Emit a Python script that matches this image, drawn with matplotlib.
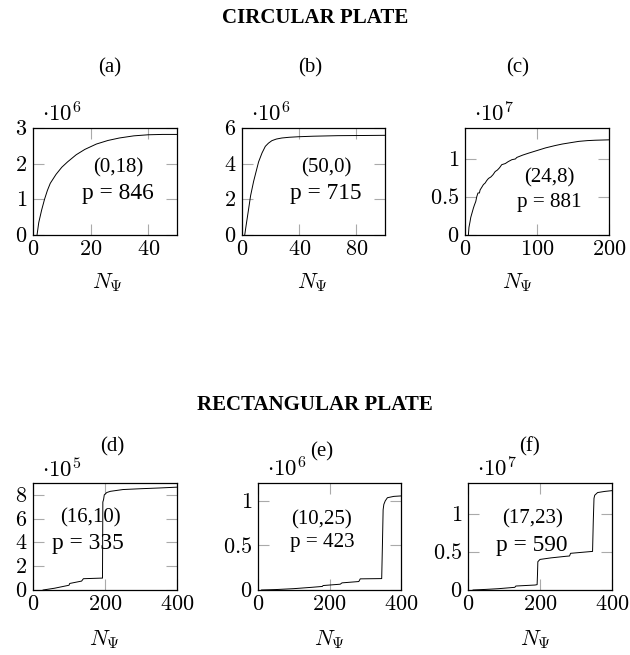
import numpy as np
import matplotlib
matplotlib.use("Agg")
import matplotlib.pyplot as plt

plt.rcParams['mathtext.fontset'] = 'cm'
plt.rcParams['font.family'] = ['Liberation Serif', 'DejaVu Serif']

W, H = 630, 655

# ---- data ----
# circular plate, (a) mode (0,18)
a_x = [1.4, 2, 3, 4, 5, 6, 8, 10, 12, 15, 18, 22, 26, 30, 35, 40, 45, 50]
a_y = [0, 0.35, 0.7, 1.0, 1.25, 1.45, 1.7, 1.9, 2.05, 2.25, 2.4, 2.55, 2.65, 2.72, 2.78, 2.81, 2.82, 2.82]
# (b) mode (50,0)
b_x = [1.9, 3, 4.7, 6, 8.1, 10, 11.6, 14, 16.3, 18.5, 20.9, 24, 27.9, 33, 39.5, 50, 67, 85, 100]
b_y = [0, 0.6, 1.5, 2.2, 3.0, 3.6, 4.1, 4.6, 4.97, 5.15, 5.29, 5.38, 5.44, 5.48, 5.51, 5.54, 5.57, 5.58, 5.59]
# (c) mode (24,8)
c_x = [4.7, 5.5, 7, 8, 9.5, 11.6, 13, 15, 16.3, 18, 20, 21, 23, 25.6, 28, 30, 32.6, 36, 39,
       41.9, 45, 48, 51, 56, 60, 65, 70, 72, 80, 88, 100, 112, 125, 135, 148, 158, 170, 181, 200]
c_y = [0, 1.0, 1.75, 2.3, 2.8, 3.5, 3.9, 4.4, 5.0, 5.5, 5.5, 5.9, 6.2, 6.6, 6.8, 7.1, 7.4, 7.6, 7.9,
       8.3, 8.5, 8.8, 9.2, 9.35, 9.6, 9.85, 9.95, 10.15, 10.45, 10.7, 11.05, 11.4, 11.7, 11.9, 12.1,
       12.25, 12.35, 12.4, 12.45]
# rectangular plate, (d) mode (16,10)
d_x = [28, 60, 100, 102, 135, 140, 190, 193, 194, 196, 198, 205, 215, 250, 300, 350, 400]
d_y = [0, 0.15, 0.4, 0.55, 0.75, 0.95, 1.0, 1.0, 7.4, 7.6, 8.0, 8.2, 8.3, 8.45, 8.52, 8.58, 8.65]
# (e) mode (10,25)
e_x = [10, 50, 100, 150, 180, 182, 230, 235, 282, 286, 346, 348, 350, 352, 356, 362, 380, 400]
e_y = [0, 0.05, 0.15, 0.3, 0.4, 0.5, 0.65, 0.8, 0.95, 1.25, 1.28, 5.0, 9.0, 9.6, 10.0, 10.35, 10.5, 10.55]
# (f) mode (17,23)
f_x = [14, 50, 84, 130, 133, 186, 192, 193, 194, 200, 230, 270, 282, 285, 346, 348, 350, 352, 360, 380, 400]
f_y = [0, 0.08, 0.17, 0.35, 0.52, 0.65, 0.7, 2.0, 3.7, 4.0, 4.2, 4.4, 4.45, 4.8, 5.05, 9.0, 12.0, 12.4, 12.75, 12.9, 13.0]

scales = [1e6, 1e6, 1e6, 1e5, 1e5, 1e6]
exponents = [6, 6, 7, 5, 6, 7]
xmax = [50, 100, 200, 400, 400, 400]
ymax = [3, 6, 14, 9, 12, 14]
xticks = [[0, 20, 40], [0, 40, 80], [0, 100, 200], [0, 200, 400], [0, 200, 400], [0, 200, 400]]
yticks = [[0, 1, 2, 3], [0, 2, 4, 6], [0, 5, 10], [0, 2, 4, 6, 8], [0, 5, 10], [0, 5, 10]]
ytick_labels = [['0', '1', '2', '3'], ['0', '2', '4', '6'], ['0', '0.5', '1'],
                ['0', '2', '4', '6', '8'], ['0', '0.5', '1'], ['0', '0.5', '1']]
modes = ['(0,18)', '(50,0)', '(24,8)', '(16,10)', '(10,25)', '(17,23)']
p_values = [846, 715, 881, 335, 423, 590]
p_big = [True, True, False, True, False, True]
letters = ['(a)', '(b)', '(c)', '(d)', '(e)', '(f)']
curves = [(a_x, a_y), (b_x, b_y), (c_x, c_y), (d_x, d_y), (e_x, e_y), (f_x, f_y)]

# pixel layout
boxes = [(33, 177, 128, 235), (242, 385, 128, 235), (465, 609, 128, 235),
         (33, 177, 483, 590), (258, 401, 483, 590), (468, 612, 483, 590)]
mode_pos = [(118, 168), (326, 168), (549, 178), (90, 518), (322, 520), (533, 519)]
p_pos = [(118, 194), (326, 194), (549, 202), (88, 543), (322, 542), (532, 545)]
letter_pos = [(110, 68), (310, 68), (518, 68), (112, 447), (322, 452), (530, 447)]
xlabel_pos = [(108, 283), (313, 283), (518, 283), (105, 640), (330, 640), (536, 640)]


def fx(x):
    return x / W


def fy(y):
    return 1 - y / H


fig = plt.figure(figsize=(6.3, 6.55), dpi=100)

fig.text(fx(315), fy(18), 'CIRCULAR PLATE', ha='center', va='center',
         fontsize=15, fontweight='bold')
fig.text(fx(315), fy(405), 'RECTANGULAR PLATE', ha='center', va='center',
         fontsize=15, fontweight='bold')

for i in range(6):
    l, r, t, b = boxes[i]
    ax = fig.add_axes([fx(l), fy(b), (r - l) / W, (b - t) / H])
    x, y = curves[i]
    if exponents[i] == 7:
        yy = np.array(y) * scales[i] / 1e6
    else:
        yy = np.array(y)
    ax.plot(x, yy, color='black', lw=0.7)
    ax.set_xlim(0, xmax[i])
    ax.set_ylim(0, ymax[i])
    ax.set_xticks(xticks[i])
    ax.set_xticklabels(['$%d$' % v for v in xticks[i]])
    ax.set_yticks(yticks[i])
    ax.set_yticklabels(['$%s$' % s for s in ytick_labels[i]])
    ax.tick_params(direction='in', length=8, width=0.8, color='#aaaaaa',
                   top=True, right=True, labelsize=16, pad=4)
    for s in ax.spines.values():
        s.set_linewidth(0.9)
    ax.text(0.06, 1.01, r'$\cdot 10^{%d}$' % exponents[i], transform=ax.transAxes,
            ha='left', va='bottom', fontsize=16.5)

    mx, my = mode_pos[i]
    fig.text(fx(mx), fy(my), modes[i], ha='center', va='center', fontsize=15)
    px, py = p_pos[i]
    fig.text(fx(px), fy(py), 'p = %d' % p_values[i], ha='center', va='center',
             fontsize=16.8 if p_big[i] else 15.2)
    lx, ly = letter_pos[i]
    fig.text(fx(lx), fy(ly), letters[i], ha='center', va='center', fontsize=15)
    nx, ny = xlabel_pos[i]
    fig.text(fx(nx), fy(ny), r'$N_\Psi$', ha='center', va='center', fontsize=16)

fig.savefig('out.png', dpi=100)
